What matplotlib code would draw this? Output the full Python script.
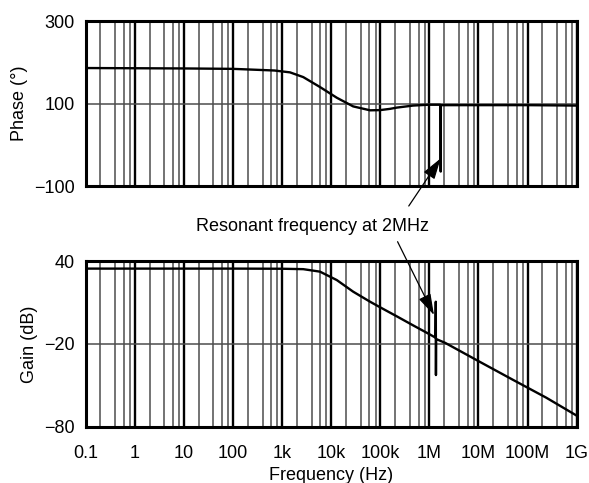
import numpy as np
import matplotlib
matplotlib.use('Agg')
import matplotlib.pyplot as plt
from matplotlib.ticker import FixedLocator, NullFormatter

plt.rcParams['font.family'] = ['Liberation Sans', 'DejaVu Sans']

# phase curve (deg)
phase_f = [0.1, 1, 10, 100, 700, 1.45e3, 2.7e3, 5.9e3, 1.3e4, 2.8e4, 6.2e4, 9.9e4,
           1.57e5, 2.15e5, 4.65e5, 9.5e5, 1.66e6, 1.69e6, 1.70e6, 1.71e6, 1e7, 1e8, 1e9]
phase_v = [186, 185.5, 185, 184, 180, 175.5, 164, 140, 114, 93, 83.5, 84,
           87, 90, 95, 97, 97, 60, -65, 96, 96, 96, 95]

# gain curve (dB)
gain_f = [0.1, 1, 10, 100, 1e3, 2.7e3, 5.9e3, 1.3e4, 2.8e4, 6.2e4, 9.9e4, 2.15e5, 4.6e5,
          1e6, 1.33e6, 1.35e6, 1.36e6, 1.37e6, 2.1e6, 1.06e7, 5e7, 2.4e8, 1e9]
gain_v = [34.5, 34.5, 34.5, 34.5, 34.4, 34.1, 32.3, 26.2, 17.8, 10.5, 6.5, 0.0, -6.5,
          -13, -15.5, 10.5, -42.6, -16.5, -19.3, -33, -46, -59, -72]

x_ticks = [0.1, 1, 10, 100, 1e3, 1e4, 1e5, 1e6, 1e7, 1e8, 1e9]
x_labels = ['0.1', '1', '10', '100', '1k', '10k', '100k', '1M', '10M', '100M', '1G']

fig = plt.figure(figsize=(5.89, 4.83), dpi=100)
ax1 = fig.add_axes([0.1455, 0.6149, 0.8336, 0.3416])
ax2 = fig.add_axes([0.1455, 0.1166, 0.8336, 0.3430])

# minor grid only at 2, 4, 6, 8 of each decade
minor = [m * 10.0**e for e in range(-1, 9) for m in (2, 4, 6, 8)]

for ax in (ax1, ax2):
    ax.set_xscale('log')
    ax.set_xlim(0.1, 1e9)
    ax.xaxis.set_major_locator(FixedLocator(x_ticks))
    ax.xaxis.set_minor_locator(FixedLocator(minor))
    ax.xaxis.set_minor_formatter(NullFormatter())
    ax.grid(which='major', axis='x', color='black', lw=1.7)
    ax.grid(which='minor', axis='x', color='#4d4d4d', lw=1.1)
    ax.grid(which='major', axis='y', color='#4d4d4d', lw=1.1)
    ax.tick_params(which='both', length=0, labelsize=13)
    ax.tick_params(axis='y', pad=8)
    ax.tick_params(axis='x', pad=13)
    for s in ax.spines.values():
        s.set_linewidth(2.2)
    ax.set_axisbelow(True)

ax1.plot(phase_f, phase_v, color='black', lw=1.7)
ax1.set_ylim(-100, 300)
ax1.set_yticks([-100, 100, 300])
ax1.set_xticklabels([])
ax1.set_ylabel('Phase (°)', fontsize=13, labelpad=4)

ax2.plot(gain_f, gain_v, color='black', lw=1.7)
ax2.set_ylim(-80, 40)
ax2.set_yticks([-80, -20, 40])
ax2.set_xticklabels(x_labels)
ax2.set_ylabel('Gain (dB)', fontsize=13, labelpad=4)
ax2.set_xlabel('Frequency (Hz)', fontsize=13, labelpad=4)

fig.text(0.530, 0.532, 'Resonant frequency at 2MHz', fontsize=13,
         ha='center', va='center')
arrow = dict(arrowstyle='-|>,head_length=1.3,head_width=0.4', color='black',
             lw=0.9, mutation_scale=10, shrinkA=0, shrinkB=0)
ax1.annotate('', xy=(1.70e6, -33), xycoords='data',
             xytext=(0.694, 0.5735), textcoords='figure fraction', arrowprops=arrow)
ax2.annotate('', xy=(1.24e6, 0.9), xycoords='data',
             xytext=(0.675, 0.4996), textcoords='figure fraction', arrowprops=arrow)

fig.savefig('out.png', dpi=100)
